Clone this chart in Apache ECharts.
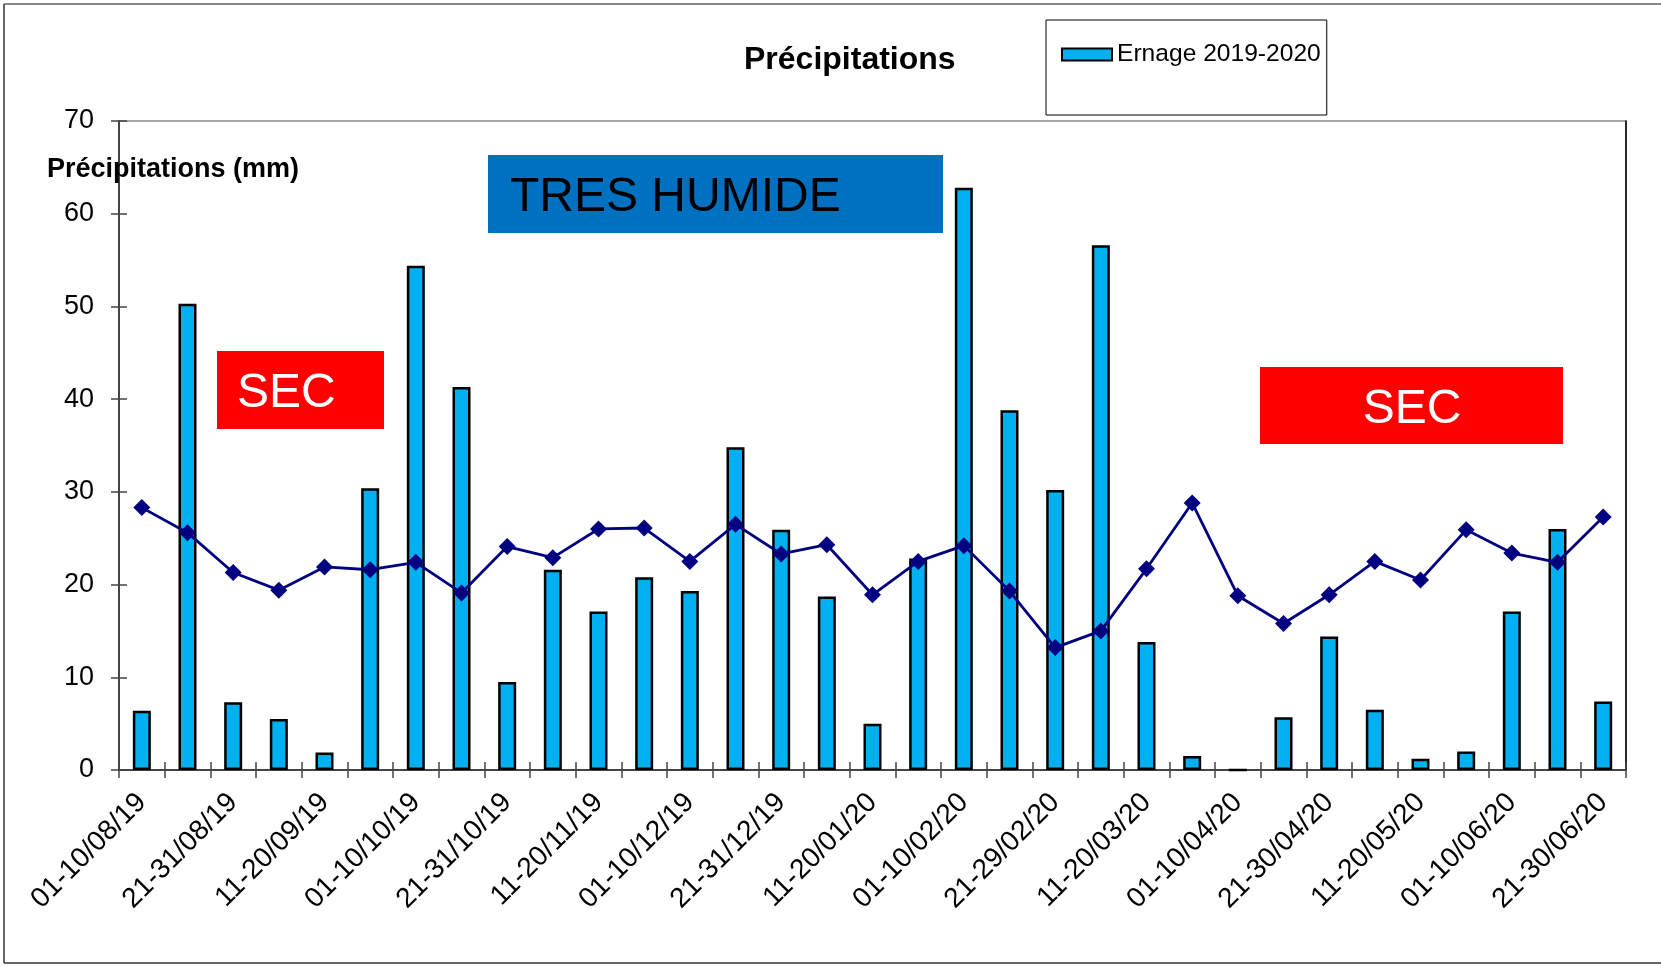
<!DOCTYPE html>
<html>
<head>
<meta charset="utf-8">
<script src="https://cdn.jsdelivr.net/npm/echarts@6/dist/echarts.min.js"></script>
<style>
html,body{margin:0;padding:0;background:#fff;}
#chart{width:1661px;height:966px;}
</style>
</head>
<body>
<div id="chart"></div>
<script>
const categories = [
  '01-10/08/19','11-20/08/19','21-31/08/19',
  '01-10/09/19','11-20/09/19','21-30/09/19',
  '01-10/10/19','11-20/10/19','21-31/10/19',
  '01-10/11/19','11-20/11/19','21-30/11/19',
  '01-10/12/19','11-20/12/19','21-31/12/19',
  '01-10/01/20','11-20/01/20','21-31/01/20',
  '01-10/02/20','11-20/02/20','21-29/02/20',
  '01-10/03/20','11-20/03/20','21-31/03/20',
  '01-10/04/20','11-20/04/20','21-30/04/20',
  '01-10/05/20','11-20/05/20','21-31/05/20',
  '01-10/06/20','11-20/06/20','21-30/06/20'
];
const rainfall = [6.4, 50.3, 7.3, 5.5, 1.9, 30.4, 54.4, 41.3, 9.5, 21.6, 17.1, 20.8, 19.3, 34.8, 25.9, 18.7, 5.0, 22.8, 62.8, 38.8, 30.2, 56.6, 13.8, 1.5, 0, 5.7, 14.4, 6.5, 1.2, 2.0, 17.1, 26.0, 7.4];
const normals = [28.3, 25.6, 21.3, 19.4, 21.9, 21.6, 22.4, 19.1, 24.1, 22.9, 26.0, 26.1, 22.5, 26.5, 23.3, 24.3, 18.9, 22.5, 24.2, 19.3, 13.2, 15.0, 21.7, 28.8, 18.8, 15.8, 18.9, 22.5, 20.5, 25.9, 23.4, 22.4, 27.3];
const yMin = 0, yMax = 70, yStep = 10;
const seriesName = 'Ernage 2019-2020';
const normalsName = 'Normales';
const titleText = 'Précipitations';
const yAxisTitle = 'Précipitations (mm)';
const notes = ['TRES HUMIDE', 'SEC', 'SEC'];

const FONT = '"Liberation Sans", Arial, sans-serif';
const chart = echarts.init(document.getElementById('chart'));

const option = {
  backgroundColor: '#fff',
  animation: false,
  title: {
    text: titleText,
    left: 744, top: 44, padding: 0,
    textStyle: { fontFamily: FONT, fontSize: 32, fontWeight: 'bold', color: '#000' }
  },
  legend: {
    data: [seriesName],
    left: 1046, top: 20,
    orient: 'horizontal',
    padding: [22, 6, 48, 15],
    borderColor: '#000', borderWidth: 1,
    backgroundColor: '#fff',
    itemWidth: 50, itemHeight: 12,
    icon: 'rect',
    itemStyle: { color: '#00B0F0', borderColor: '#000', borderWidth: 2 },
    textStyle: { fontFamily: FONT, fontSize: 24.6, color: '#000' }
  },
  grid: {
    left: 119, right: 35, top: 121, bottom: 196,
    show: true, borderColor: '#888', borderWidth: 1.5, backgroundColor: '#fff'
  },
  xAxis: [{
    type: 'category', data: categories, boundaryGap: true, position: 'bottom',
    axisLine: { lineStyle: { color: '#444', width: 2 } },
    axisTick: { show: true, interval: 0, length: 8, inside: false, lineStyle: { color: '#444', width: 1.5 } },
    axisLabel: { interval: 1, rotate: 45, margin: 28, fontFamily: FONT, fontSize: 28, color: '#000' },
    splitLine: { show: false }
  }, {
    type: 'category', data: categories, boundaryGap: true, position: 'bottom',
    axisLine: { show: false },
    axisTick: { show: true, interval: 0, length: 8, inside: true, lineStyle: { color: '#444', width: 1.5 } },
    axisLabel: { show: false },
    splitLine: { show: false }
  }],
  yAxis: [{
    type: 'value', min: yMin, max: yMax, interval: yStep, position: 'left',
    axisLine: { show: true, lineStyle: { color: '#444', width: 2 } },
    axisTick: { show: true, length: 8, inside: false, lineStyle: { color: '#444', width: 1.5 } },
    axisLabel: { margin: 25, fontFamily: FONT, fontSize: 27, color: '#000' },
    splitLine: { show: false }
  }, {
    type: 'value', min: yMin, max: yMax, interval: yStep, position: 'left',
    axisLine: { show: false },
    axisTick: { show: true, length: 8, inside: true, lineStyle: { color: '#444', width: 1.5 } },
    axisLabel: { show: false },
    splitLine: { show: false }
  }, {
    type: 'value', min: yMin, max: yMax, interval: yStep, position: 'right',
    axisLine: { show: true, lineStyle: { color: '#000', width: 1.5 } },
    axisTick: { show: false }, axisLabel: { show: false }, splitLine: { show: false }
  }],
  series: [{
    name: seriesName, type: 'bar', data: rainfall,
    xAxisIndex: 0, yAxisIndex: 0,
    barWidth: 18,
    itemStyle: { color: '#00B0F0', borderColor: '#000', borderWidth: 2.5 },
    z: 2
  }, {
    name: normalsName, type: 'line', data: normals,
    xAxisIndex: 0, yAxisIndex: 0,
    symbol: 'diamond', symbolSize: 17,
    lineStyle: { color: '#000080', width: 2.8 },
    itemStyle: { color: '#000080' },
    z: 3
  }],
  graphic: [
    { type: 'line', shape: { x1: 4, y1: 4, x2: 1661, y2: 4 }, style: { stroke: '#888', lineWidth: 2 }, z: 10 },
    { type: 'line', shape: { x1: 4, y1: 4, x2: 4, y2: 963 }, style: { stroke: '#333', lineWidth: 1.5 }, z: 10 },
    { type: 'line', shape: { x1: 4, y1: 963, x2: 1661, y2: 963 }, style: { stroke: '#333', lineWidth: 1.5 }, z: 10 },
    { type: 'text', left: 47, top: 156, z: 20,
      style: { text: yAxisTitle, fontFamily: FONT, fontSize: 27, fontWeight: 'bold', fill: '#000' } },
    { type: 'rect', shape: { x: 488, y: 155, width: 455, height: 78 }, style: { fill: '#0070C0' }, z: 20 },
    { type: 'text', x: 510, y: 198, z: 21,
      style: { text: notes[0], fontFamily: FONT, fontSize: 48, fill: '#000', align: 'left', verticalAlign: 'middle' } },
    { type: 'rect', shape: { x: 217, y: 351, width: 167, height: 78 }, style: { fill: '#FF0000' }, z: 20 },
    { type: 'text', x: 237, y: 394, z: 21,
      style: { text: notes[1], fontFamily: FONT, fontSize: 48, fill: '#fff', align: 'left', verticalAlign: 'middle' } },
    { type: 'rect', shape: { x: 1260, y: 367, width: 303, height: 77 }, style: { fill: '#FF0000' }, z: 20 },
    { type: 'text', x: 1412, y: 410, z: 21,
      style: { text: notes[2], fontFamily: FONT, fontSize: 48, fill: '#fff', align: 'center', verticalAlign: 'middle' } }
  ]
};
chart.setOption(option);
</script>
</body>
</html>
